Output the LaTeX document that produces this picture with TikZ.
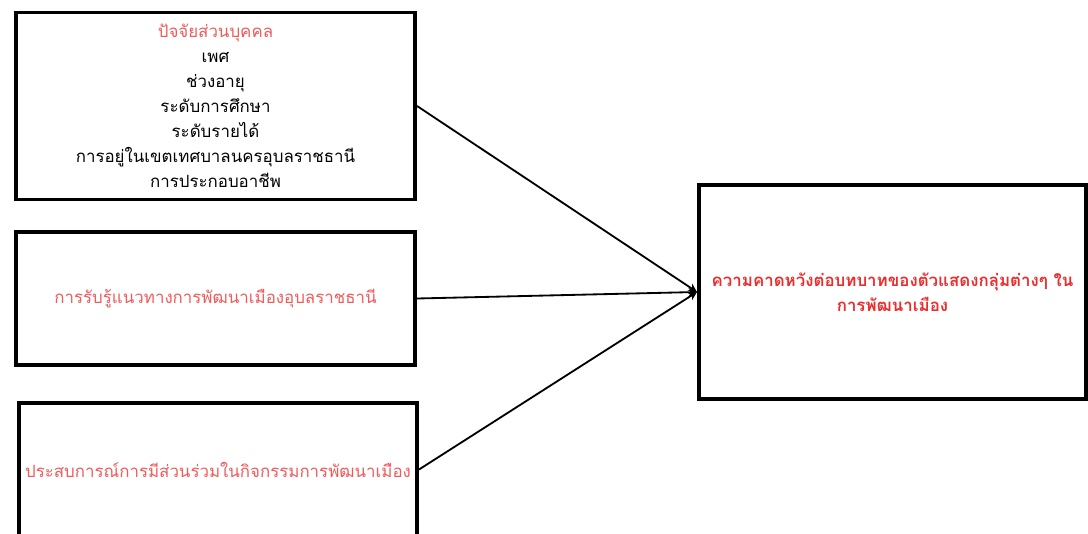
\documentclass[tikz,border=0pt]{standalone}
\usepackage{fontspec}
\newfontfamily\thaifont[Script=Thai]{Loma}
\usepackage{tikz}
\usetikzlibrary{arrows.meta, positioning}
\usepackage{xcolor}
\definecolor{factorred}{RGB}{240, 90, 90}
\definecolor{goalred}{RGB}{235, 45, 45}

\begin{document}
\begin{tikzpicture}[
  x=0.025cm, y=-0.025cm,
  factor/.style={draw, line width=2.8pt, align=center, font=\thaifont\fontsize{12}{17.8}\selectfont, inner sep=0pt},
  link/.style={-{Stealth[length=6pt, width=6pt]}, line width=1.3pt}
]
  \useasboundingbox (0,0) rectangle (1088,534);

  % Personal factors
  \node[factor, minimum width=9.975cm, minimum height=4.675cm] (pf) at (215.5, 106)
    {\textcolor{factorred}{ปัจจัยส่วนบุคคล}\\ เพศ\\ ช่วงอายุ\\ ระดับการศึกษา\\ ระดับรายได้\\ การอยู่ในเขตเทศบาลนครอุบลราชธานี\\ การประกอบอาชีพ};

  % Perception
  \node[factor, minimum width=9.975cm, minimum height=3.325cm, text=factorred] (pc) at (215.5, 298.5)
    {การรับรู้แนวทางการพัฒนาเมืองอุบลราชธานี};

  % Experience
  \node[factor, minimum width=9.95cm, minimum height=3.325cm, text=factorred] (ex) at (218, 469.5)
    {ประสบการณ์การมีส่วนร่วมในกิจกรรมการพัฒนาเมือง};

  % Expectation
  \node[factor, minimum width=9.675cm, minimum height=5.35cm, text=goalred, font=\thaifont\bfseries\fontsize{12}{17.8}\selectfont] (ep) at (892.5, 292)
    {ความคาดหวังต่อบทบาทของตัวแสดงกลุ่มต่างๆ ใน\\ การพัฒนาเมือง};

  % Arrows
  \draw[link] (pf.east) -- (ep.west);
  \draw[link] (pc.east) -- (ep.west);
  \draw[link] (ex.east) -- (ep.west);
\end{tikzpicture}
\end{document}
